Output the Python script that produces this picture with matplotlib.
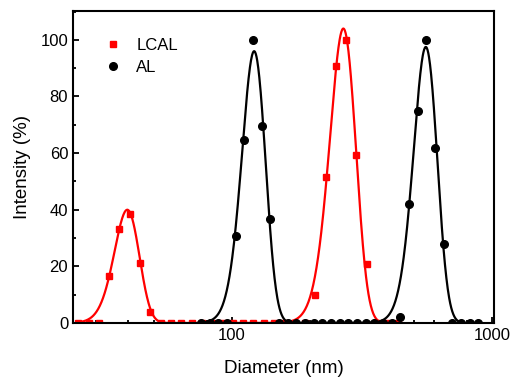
import numpy as np
import matplotlib
matplotlib.use("Agg")
import matplotlib.pyplot as plt
from matplotlib.ticker import LogLocator, NullFormatter, FixedLocator, MultipleLocator

plt.rcParams['font.family'] = ['Liberation Sans', 'DejaVu Sans']

# ---- data ----
lcal_d = [25.66, 28.11, 30.79, 33.73, 36.95, 40.48, 44.35, 48.58, 53.21, 58.29,
          63.86, 69.96, 76.64, 83.95, 91.96, 100.74, 110.36, 120.90, 132.43, 145.08,
          158.93, 174.10, 190.72, 208.93, 228.88, 250.73, 274.66, 300.88, 329.61,
          361.07, 395.55, 433.31]
lcal_i = [0, 0, 0, 16.6, 33.2, 38.4, 21.1, 3.8, 0, 0,
          0, 0, 0, 0, 0, 0, 0, 0, 0, 0,
          0, 0, 0, 9.9, 51.7, 90.8, 100, 59.4, 20.9,
          0, 0, 0]

al_d = [76.06, 82.14, 88.69, 95.74, 103.37, 111.61, 120.50, 130.10, 140.47, 151.67,
        163.76, 176.81, 190.90, 206.11, 222.54, 240.27, 259.42, 280.10, 302.42,
        326.52, 352.54, 380.63, 410.97, 443.72, 479.08, 517.25, 558.47, 602.98,
        651.03, 702.91, 758.93, 819.40, 884.70]
al_i = [0, 0, 0, 0, 30.9, 64.7, 100, 69.7, 36.7, 0,
        0, 0, 0, 0, 0, 0, 0, 0, 0,
        0, 0, 0, 0, 2.2, 41.9, 74.7, 100, 61.7,
        28.0, 0, 0, 0, 0]

# Gaussian fit parameters (amplitude, centre nm, sigma nm)
lcal_fit = [(40.0, 39.6, 4.4), (104.0, 268.0, 31.0)]
al_fit = [(96.0, 121.7, 12.7), (97.5, 556.0, 58.3)]

x_ticks = [100, 1000]
y_ticks = [0, 20, 40, 60, 80, 100]


def fit_curve(params, lo, hi):
    x = np.logspace(np.log10(lo), np.log10(hi), 800)
    y = np.zeros_like(x)
    for a, c, s in params:
        y += a * np.exp(-0.5 * ((x - c) / s) ** 2)
    return x, y


fig = plt.figure(figsize=(5.16, 3.79), dpi=100)
ax = fig.add_axes([0.1415, 0.1478, 0.957 - 0.1415, 0.971 - 0.1478])

xr, yr = fit_curve(lcal_fit, lcal_d[0], lcal_d[-1])
xb, yb = fit_curve(al_fit, al_d[0], al_d[-1])

ax.plot(xr, yr, color='#ff0000', lw=1.6, zorder=2)
ax.plot(lcal_d, lcal_i, ls='none', marker='s', ms=5, color='#ff0000',
        mec='#ff0000', label='LCAL', zorder=3)
ax.plot(xb, yb, color='black', lw=1.6, zorder=4)
ax.plot(al_d, al_i, ls='none', marker='o', ms=5.5, color='black',
        label='AL', zorder=5)

ax.set_xscale('log')
ax.set_xlim(24.5, 1015)
ax.set_ylim(0, 110.2)

ax.xaxis.set_major_locator(FixedLocator(x_ticks))
ax.set_xticklabels([str(t) for t in x_ticks])
ax.xaxis.set_minor_locator(LogLocator(base=10, subs=np.arange(2, 10), numticks=20))
ax.xaxis.set_minor_formatter(NullFormatter())
ax.yaxis.set_major_locator(FixedLocator(y_ticks))
ax.yaxis.set_minor_locator(MultipleLocator(10))

ax.tick_params(which='both', direction='in', top=False, right=False,
               width=1.3, labelsize=12)
ax.tick_params(which='major', length=4.5)
ax.tick_params(which='minor', length=2.5)
for sp in ax.spines.values():
    sp.set_linewidth(1.5)
    sp.set_zorder(10)

ax.set_xlabel('Diameter (nm)', fontsize=13.5, labelpad=12)
ax.set_ylabel('Intensity (%)', fontsize=13.5, labelpad=7)

ax.legend(loc='upper left', bbox_to_anchor=(0.055, 0.935), frameon=False,
          fontsize=12, handlelength=1.2, handletextpad=0.8,
          labelspacing=0.4, borderaxespad=0)

fig.savefig('out.png', dpi=100)
